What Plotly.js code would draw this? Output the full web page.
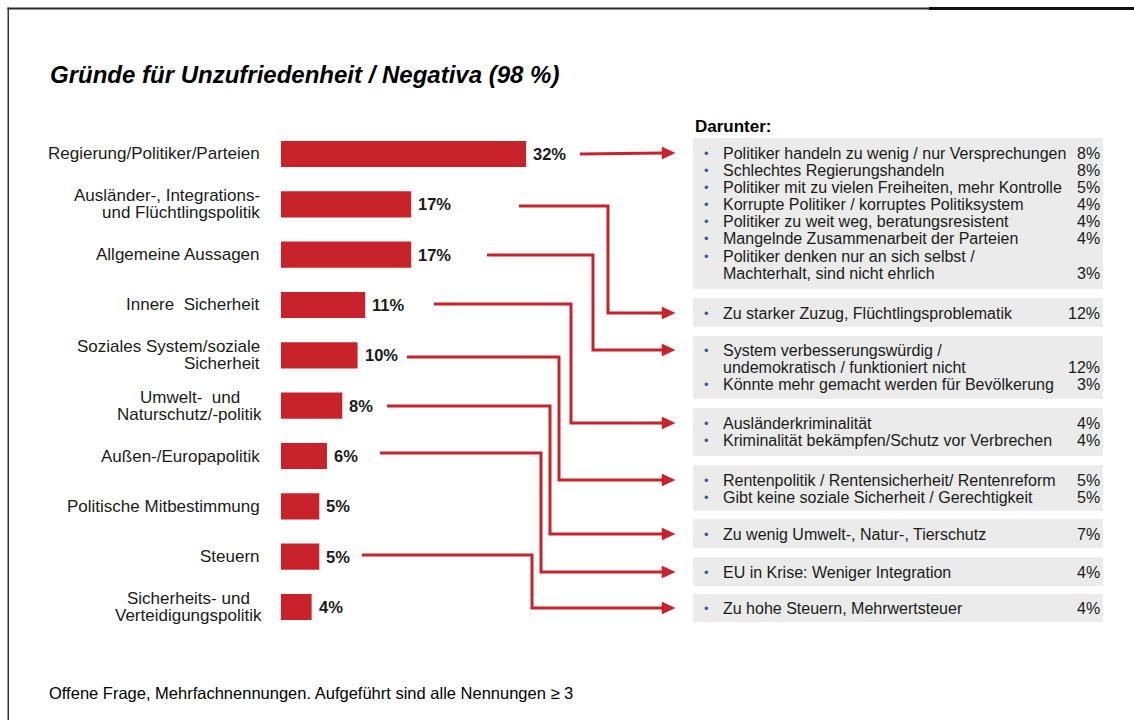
<!DOCTYPE html>
<html>
<head>
<meta charset="utf-8">
<script src="https://cdn.plot.ly/plotly-3.0.1.min.js"></script>
<style>
  html, body { margin: 0; padding: 0; background: #ffffff; }
  #chart { width: 1134px; height: 720px; }
</style>
</head>
<body>
<div id="chart"></div>
<script>
// ---------------- DATA ----------------
const chartTitle = "Gründe für Unzufriedenheit / Negativa (98 %)";
const footNote = "Offene Frage, Mehrfachnennungen. Aufgeführt sind alle Nennungen ≥ 3";
const detailHeader = "Darunter:";

const categories = [
  "Regierung/Politiker/Parteien",
  "Ausländer-, Integrations-<br>und Flüchtlingspolitik",
  "Allgemeine Aussagen",
  "Innere\u00a0 Sicherheit",
  "Soziales System/soziale<br>Sicherheit",
  "Umwelt-\u00a0 und<br>Naturschutz/-politik",
  "Außen-/Europapolitik",
  "Politische Mitbestimmung",
  "Steuern",
  "Sicherheits- und<br>Verteidigungspolitik"
];
const values = [32, 17, 17, 11, 10, 8, 6, 5, 5, 4];

// sub-answers ("Darunter"), one group per box
const detailTexts = [
  ["Politiker handeln zu wenig / nur Versprechungen",
   "Schlechtes Regierungshandeln",
   "Politiker mit zu vielen Freiheiten, mehr Kontrolle",
   "Korrupte Politiker / korruptes Politiksystem",
   "Politiker zu weit weg, beratungsresistent",
   "Mangelnde Zusammenarbeit der Parteien",
   "Politiker denken nur an sich selbst /<br>Machterhalt, sind nicht ehrlich"],
  ["Zu starker Zuzug, Flüchtlingsproblematik"],
  ["System verbesserungswürdig /<br>undemokratisch / funktioniert nicht",
   "Könnte mehr gemacht werden für Bevölkerung"],
  ["Ausländerkriminalität",
   "Kriminalität bekämpfen/Schutz vor Verbrechen"],
  ["Rentenpolitik / Rentensicherheit/ Rentenreform",
   "Gibt keine soziale Sicherheit / Gerechtigkeit"],
  ["Zu wenig Umwelt-, Natur-, Tierschutz"],
  ["EU in Krise: Weniger Integration"],
  ["Zu hohe Steuern, Mehrwertsteuer"]
];
const detailValues = [
  [8, 8, 5, 4, 4, 4, 3],
  [12],
  [12, 3],
  [4, 4],
  [5, 5],
  [7],
  [4],
  [4]
];
// which bar (category index) each detail box belongs to
const detailSource = [0, 1, 2, 3, 4, 5, 6, 8];

// ---------------- LAYOUT CONSTANTS (pixels) ----------------
const W = 1134, H = 720;
const RED = "#c8222a";
const FONT = "Liberation Sans, Arial, Helvetica, sans-serif";
const px = x => x / W;
const py = y => 1 - y / H;

const barLeft = 281, pxPerUnit = 7.66;
const rowTop = 128.8, rowBottom = 632.2;
const labelRight = 262;
const labelAlign = ["right","right","right","right","right","center","right","right","right","center"];
const labelSize = 17, labelLineStep = 17;

const boxLeft = 693, boxRight = 1103;
const boxTop    = [138, 298, 336, 408, 465, 519, 557, 594];
const boxBottom = [289, 327, 399, 456, 511, 548, 586, 622];
const firstLine = [153, 313, 350, 423, 480, 534, 572, 608];
const lineStep = 17.2;
const bulletX = 706, textX = 721, pctRight = 1102;
const detailSize = 16;

// arrow routing: start x, start y, elbow x
const arrowStartX = [580, 519, 487, 434, 407, 387, 380, 362];
const arrowStartY = [154, 206, 255, 304, 357, 406, 453, 555];
const arrowElbowX = [null, 608, 593, 571, 559, 550, 541, 532];
const arrowEndX = 663, arrowTipX = 675, arrowHalf = 6;

// ---------------- BUILD ----------------
const canvas = document.createElement("canvas");
const ctx = canvas.getContext("2d");
function textWidth(t, size, weight) {
  ctx.font = (weight || "normal") + " " + size + "px " + FONT;
  return ctx.measureText(t.replace(/\u00a0/g, " ")).width;
}

const trace = {
  type: "bar",
  orientation: "h",
  x: values,
  y: categories,
  width: 0.52,
  marker: { color: RED, line: { width: 0 } },
  hoverinfo: "skip",
  cliponaxis: false
};

const annotations = [];
const shapes = [];

// frame: top and left edges
shapes.push({ type: "rect", xref: "paper", yref: "paper", layer: "above",
  x0: px(7.5), x1: 1, y0: py(9.5), y1: py(7.5),
  fillcolor: "#2a2a2a", line: { width: 0 } });
shapes.push({ type: "rect", xref: "paper", yref: "paper", layer: "above",
  x0: px(929), x1: 1, y0: py(10), y1: py(7),
  fillcolor: "#111111", line: { width: 0 } });
shapes.push({ type: "rect", xref: "paper", yref: "paper", layer: "above",
  x0: px(7.5), x1: px(9), y0: 0, y1: py(7.5),
  fillcolor: "#333333", line: { width: 0 } });

// title
annotations.push({
  xref: "paper", yref: "paper", x: px(48), y: py(75),
  xanchor: "left", yanchor: "middle", showarrow: false,
  text: "<b><i>" + chartTitle + "</i></b>",
  font: { family: FONT, size: 24, color: "#000000" }
});
// footnote
annotations.push({
  xref: "paper", yref: "paper", x: px(47), y: py(693),
  xanchor: "left", yanchor: "middle", showarrow: false,
  text: footNote,
  font: { family: FONT, size: 16.5, color: "#000000" }
});
// "Darunter:"
annotations.push({
  xref: "paper", yref: "paper", x: px(693), y: py(126),
  xanchor: "left", yanchor: "middle", showarrow: false,
  text: "<b>" + detailHeader + "</b>",
  font: { family: FONT, size: 17, color: "#000000" }
});

// category labels (line by line, to get tight line spacing)
categories.forEach((cat, i) => {
  const lines = cat.split("<br>");
  const n = lines.length;
  let anchorX = labelRight, xanchor = "right";
  if (labelAlign[i] === "center") {
    const maxW = Math.max(...lines.map(l => textWidth(l, labelSize)));
    anchorX = labelRight - maxW / 2;
    xanchor = "center";
  }
  lines.forEach((ln, k) => {
    annotations.push({
      xref: "paper", yref: "y", x: px(anchorX), y: cat,
      yshift: ((n - 1) / 2 - k) * labelLineStep,
      xanchor: xanchor, yanchor: "middle", showarrow: false,
      text: ln, font: { family: FONT, size: labelSize, color: "#1a1a1a" }
    });
  });
});

// value labels
values.forEach((v, i) => {
  annotations.push({
    xref: "x", yref: "y", x: v, y: categories[i],
    xanchor: "left", yanchor: "middle", xshift: 5, showarrow: false,
    text: "<b>" + v + "%</b>",
    font: { family: FONT, size: 16.5, color: "#1a1a1a" }
  });
});

// detail boxes
detailTexts.forEach((items, g) => {
  shapes.push({
    type: "rect", xref: "paper", yref: "paper", layer: "below",
    x0: px(boxLeft), x1: px(boxRight), y0: py(boxBottom[g]), y1: py(boxTop[g]),
    fillcolor: "#ebebeb", line: { width: 0 }
  });
  let lineIdx = 0;
  items.forEach((txt, k) => {
    const lines = txt.split("<br>");
    const yFirst = firstLine[g] + lineIdx * lineStep;
    annotations.push({
      xref: "paper", yref: "paper", x: px(bulletX), y: py(yFirst),
      xanchor: "center", yanchor: "middle", showarrow: false,
      text: "•", font: { family: FONT, size: 13, color: "#2f5da8" }
    });
    lines.forEach((ln, m) => {
      annotations.push({
        xref: "paper", yref: "paper", x: px(textX), y: py(yFirst + m * lineStep),
        xanchor: "left", yanchor: "middle", showarrow: false,
        text: ln, font: { family: FONT, size: detailSize, color: "#1a1a1a" }
      });
    });
    const yLast = yFirst + (lines.length - 1) * lineStep;
    annotations.push({
      xref: "paper", yref: "paper", x: px(pctRight), y: py(yLast),
      xanchor: "right", yanchor: "middle", showarrow: false,
      text: detailValues[g][k] + "%", font: { family: FONT, size: detailSize, color: "#1a1a1a" }
    });
    lineIdx += lines.length;
  });

  // connector arrow
  const sx = arrowStartX[g], sy = arrowStartY[g], ey = firstLine[g];
  let path = "M" + px(sx) + "," + py(sy);
  if (arrowElbowX[g] !== null) {
    path += " L" + px(arrowElbowX[g]) + "," + py(sy) +
            " L" + px(arrowElbowX[g]) + "," + py(ey);
  }
  path += " L" + px(arrowEndX) + "," + py(ey);
  shapes.push({
    type: "path", xref: "paper", yref: "paper", path: path,
    line: { color: RED, width: 3 }, layer: "above"
  });
  shapes.push({
    type: "path", xref: "paper", yref: "paper",
    path: "M" + px(arrowEndX - 1) + "," + py(ey - arrowHalf) +
          " L" + px(arrowTipX) + "," + py(ey) +
          " L" + px(arrowEndX - 1) + "," + py(ey + arrowHalf) + " Z",
    fillcolor: RED, line: { color: RED, width: 0.5 }, layer: "above"
  });
});

const layout = {
  width: W, height: H, autosize: false,
  margin: { l: 0, r: 0, t: 0, b: 0, pad: 0 },
  paper_bgcolor: "#ffffff", plot_bgcolor: "rgba(0,0,0,0)",
  showlegend: false,
  font: { family: FONT, color: "#1a1a1a" },
  xaxis: {
    domain: [px(barLeft), 1],
    range: [0, (W - barLeft) / pxPerUnit],
    visible: false, fixedrange: true
  },
  yaxis: {
    type: "category",
    domain: [py(rowBottom), py(rowTop)],
    range: [categories.length - 0.5, -0.5],
    visible: false, fixedrange: true
  },
  annotations: annotations,
  shapes: shapes
};

Plotly.newPlot("chart", [trace], layout, { staticPlot: true, displayModeBar: false });
</script>
</body>
</html>
